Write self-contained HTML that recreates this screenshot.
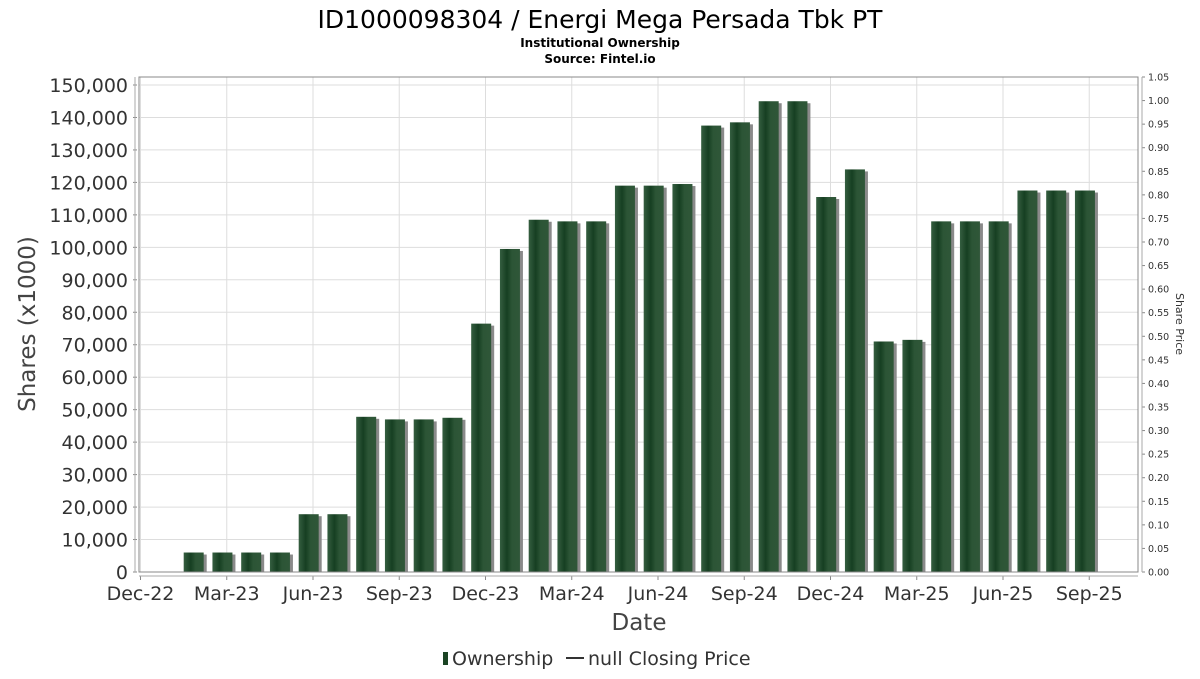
<!DOCTYPE html>
<html><head><meta charset="utf-8"><style>
body{margin:0;background:#fff;width:1200px;height:675px;overflow:hidden;font-family:"DejaVu Sans","Liberation Sans",sans-serif;}
svg text{font-family:"DejaVu Sans","Liberation Sans",sans-serif;}
</style></head><body>
<svg id="chart" width="1200" height="675" viewBox="0 0 1200 675" xmlns="http://www.w3.org/2000/svg">
<defs>
<linearGradient id="barg" x1="0" x2="1" y1="0" y2="0">
<stop offset="0" stop-color="#355e40"/><stop offset="0.35" stop-color="#163f22"/><stop offset="0.6" stop-color="#2c5536"/><stop offset="1" stop-color="#2f5638"/>
</linearGradient>
</defs>
<text x="600" y="28" text-anchor="middle" font-size="25" fill="#000">ID1000098304 / Energi Mega Persada Tbk PT</text>
<text x="600" y="47" text-anchor="middle" font-size="12" font-weight="bold" fill="#000">Institutional Ownership</text>
<text x="600" y="63" text-anchor="middle" font-size="12" font-weight="bold" fill="#000">Source: Fintel.io</text>
<g id="grid"></g>
<g id="bars"></g>
<rect x="139" y="77" width="999" height="495" fill="none" stroke="#888" stroke-width="1"/>
<g id="axes"></g>
<text transform="translate(35,324) rotate(-90)" text-anchor="middle" font-size="23" fill="#444">Shares (x1000)</text>
<text transform="translate(1176,324) rotate(90)" text-anchor="middle" font-size="11" fill="#333">Share Price</text>
<text x="639" y="630" text-anchor="middle" font-size="23" fill="#444">Date</text>
<g>
<rect x="443" y="652" width="5" height="13" fill="#1b4424"/>
<text x="452" y="665" font-size="19" fill="#333">Ownership</text>
<line x1="566" y1="658" x2="584" y2="658" stroke="#333" stroke-width="2"/>
<text x="588" y="665" font-size="19" fill="#333">null Closing Price</text>
</g>
</svg>
<script>
const categories = ["Feb-23","Mar-23","Apr-23","May-23","Jun-23","Jul-23","Aug-23","Sep-23","Oct-23","Nov-23","Dec-23","Jan-24","Feb-24","Mar-24","Apr-24","May-24","Jun-24","Jul-24","Aug-24","Sep-24","Oct-24","Nov-24","Dec-24","Jan-25","Feb-25","Mar-25","Apr-25","May-25","Jun-25","Jul-25","Aug-25","Sep-25"];
const ownership = [6000,6000,6000,6000,17800,17800,47800,47000,47000,47500,76500,99500,108500,108000,108000,119000,119000,119500,137500,138500,145000,145000,115500,124000,71000,71500,108000,108000,108000,117500,117500,117500];
const leftTicks = [0,10000,20000,30000,40000,50000,60000,70000,80000,90000,100000,110000,120000,130000,140000,150000];
const rightTicks = [0,0.05,0.1,0.15,0.2,0.25,0.3,0.35,0.4,0.45,0.5,0.55,0.6,0.65,0.7,0.75,0.8,0.85,0.9,0.95,1.0,1.05];
const xTickLabels = ["Dec-22","Mar-23","Jun-23","Sep-23","Dec-23","Mar-24","Jun-24","Sep-24","Dec-24","Mar-25","Jun-25","Sep-25"];

const NS="http://www.w3.org/2000/svg";
const L=139,R=1138,T=77,B=572;
function y(v){return B-(v/150000)*(B-85);}
function yr(v){return B-(v/1.05)*(B-T);}
function xm(m){return 140.5+m*28.75;} // months since Dec-22
function mk(tag,attrs,parent){const e=document.createElementNS(NS,tag);for(const k in attrs)e.setAttribute(k,attrs[k]);parent.appendChild(e);return e;}
const grid=document.getElementById('grid'),bars=document.getElementById('bars'),axes=document.getElementById('axes');

leftTicks.forEach(v=>{
  const g=mk('line',{x1:L,x2:R,y1:y(v),y2:y(v),stroke:'#ddd'},grid);
  
  
  mk('line',{x1:133,x2:137,y1:y(v),y2:y(v),stroke:'#888'},axes);
  const t=mk('text',{x:128,y:y(v)+7,'text-anchor':'end','font-size':19,fill:'#333'},axes);
  
  
  t.textContent=v.toLocaleString('en-US');
});
mk('line',{x1:135,x2:135,y1:T,y2:B,stroke:'#aaa'},axes);
rightTicks.forEach(v=>{
  mk('line',{x1:1142,x2:1145,y1:yr(v),y2:yr(v),stroke:'#888'},axes);
  const t=mk('text',{x:1148,y:yr(v)+3.5,'font-size':9.5,fill:'#333'},axes);
  
  
  t.textContent=v.toFixed(2);
});
mk('line',{x1:1142,x2:1142,y1:T,y2:B,stroke:'#aaa'},axes);
xTickLabels.forEach((lab,i)=>{
  const x=xm(i*3);
  const g=mk('line',{x1:x,x2:x,y1:T,y2:B,stroke:'#ddd'},grid);
  
  
  mk('line',{x1:x,x2:x,y1:576,y2:580,stroke:'#888'},axes);
  const t=mk('text',{x:x,y:600,'text-anchor':'middle','font-size':19,fill:'#333'},axes);
  
  
  t.textContent=lab;
});
mk('line',{x1:L,x2:R,y1:576,y2:576,stroke:'#aaa'},axes);

ownership.forEach((v,i)=>{
  const cx=xm(1.85+i), w=20, top=y(v);
  const s=mk('rect',{x:cx-w/2+3,y:top+2,width:w,height:B-top-2,fill:'#8a8a8a'},bars);
  
  
  const b=mk('rect',{x:cx-w/2,y:top,width:w,height:B-top,fill:'url(#barg)'},bars);
  
  
});
</script>
</body></html>
